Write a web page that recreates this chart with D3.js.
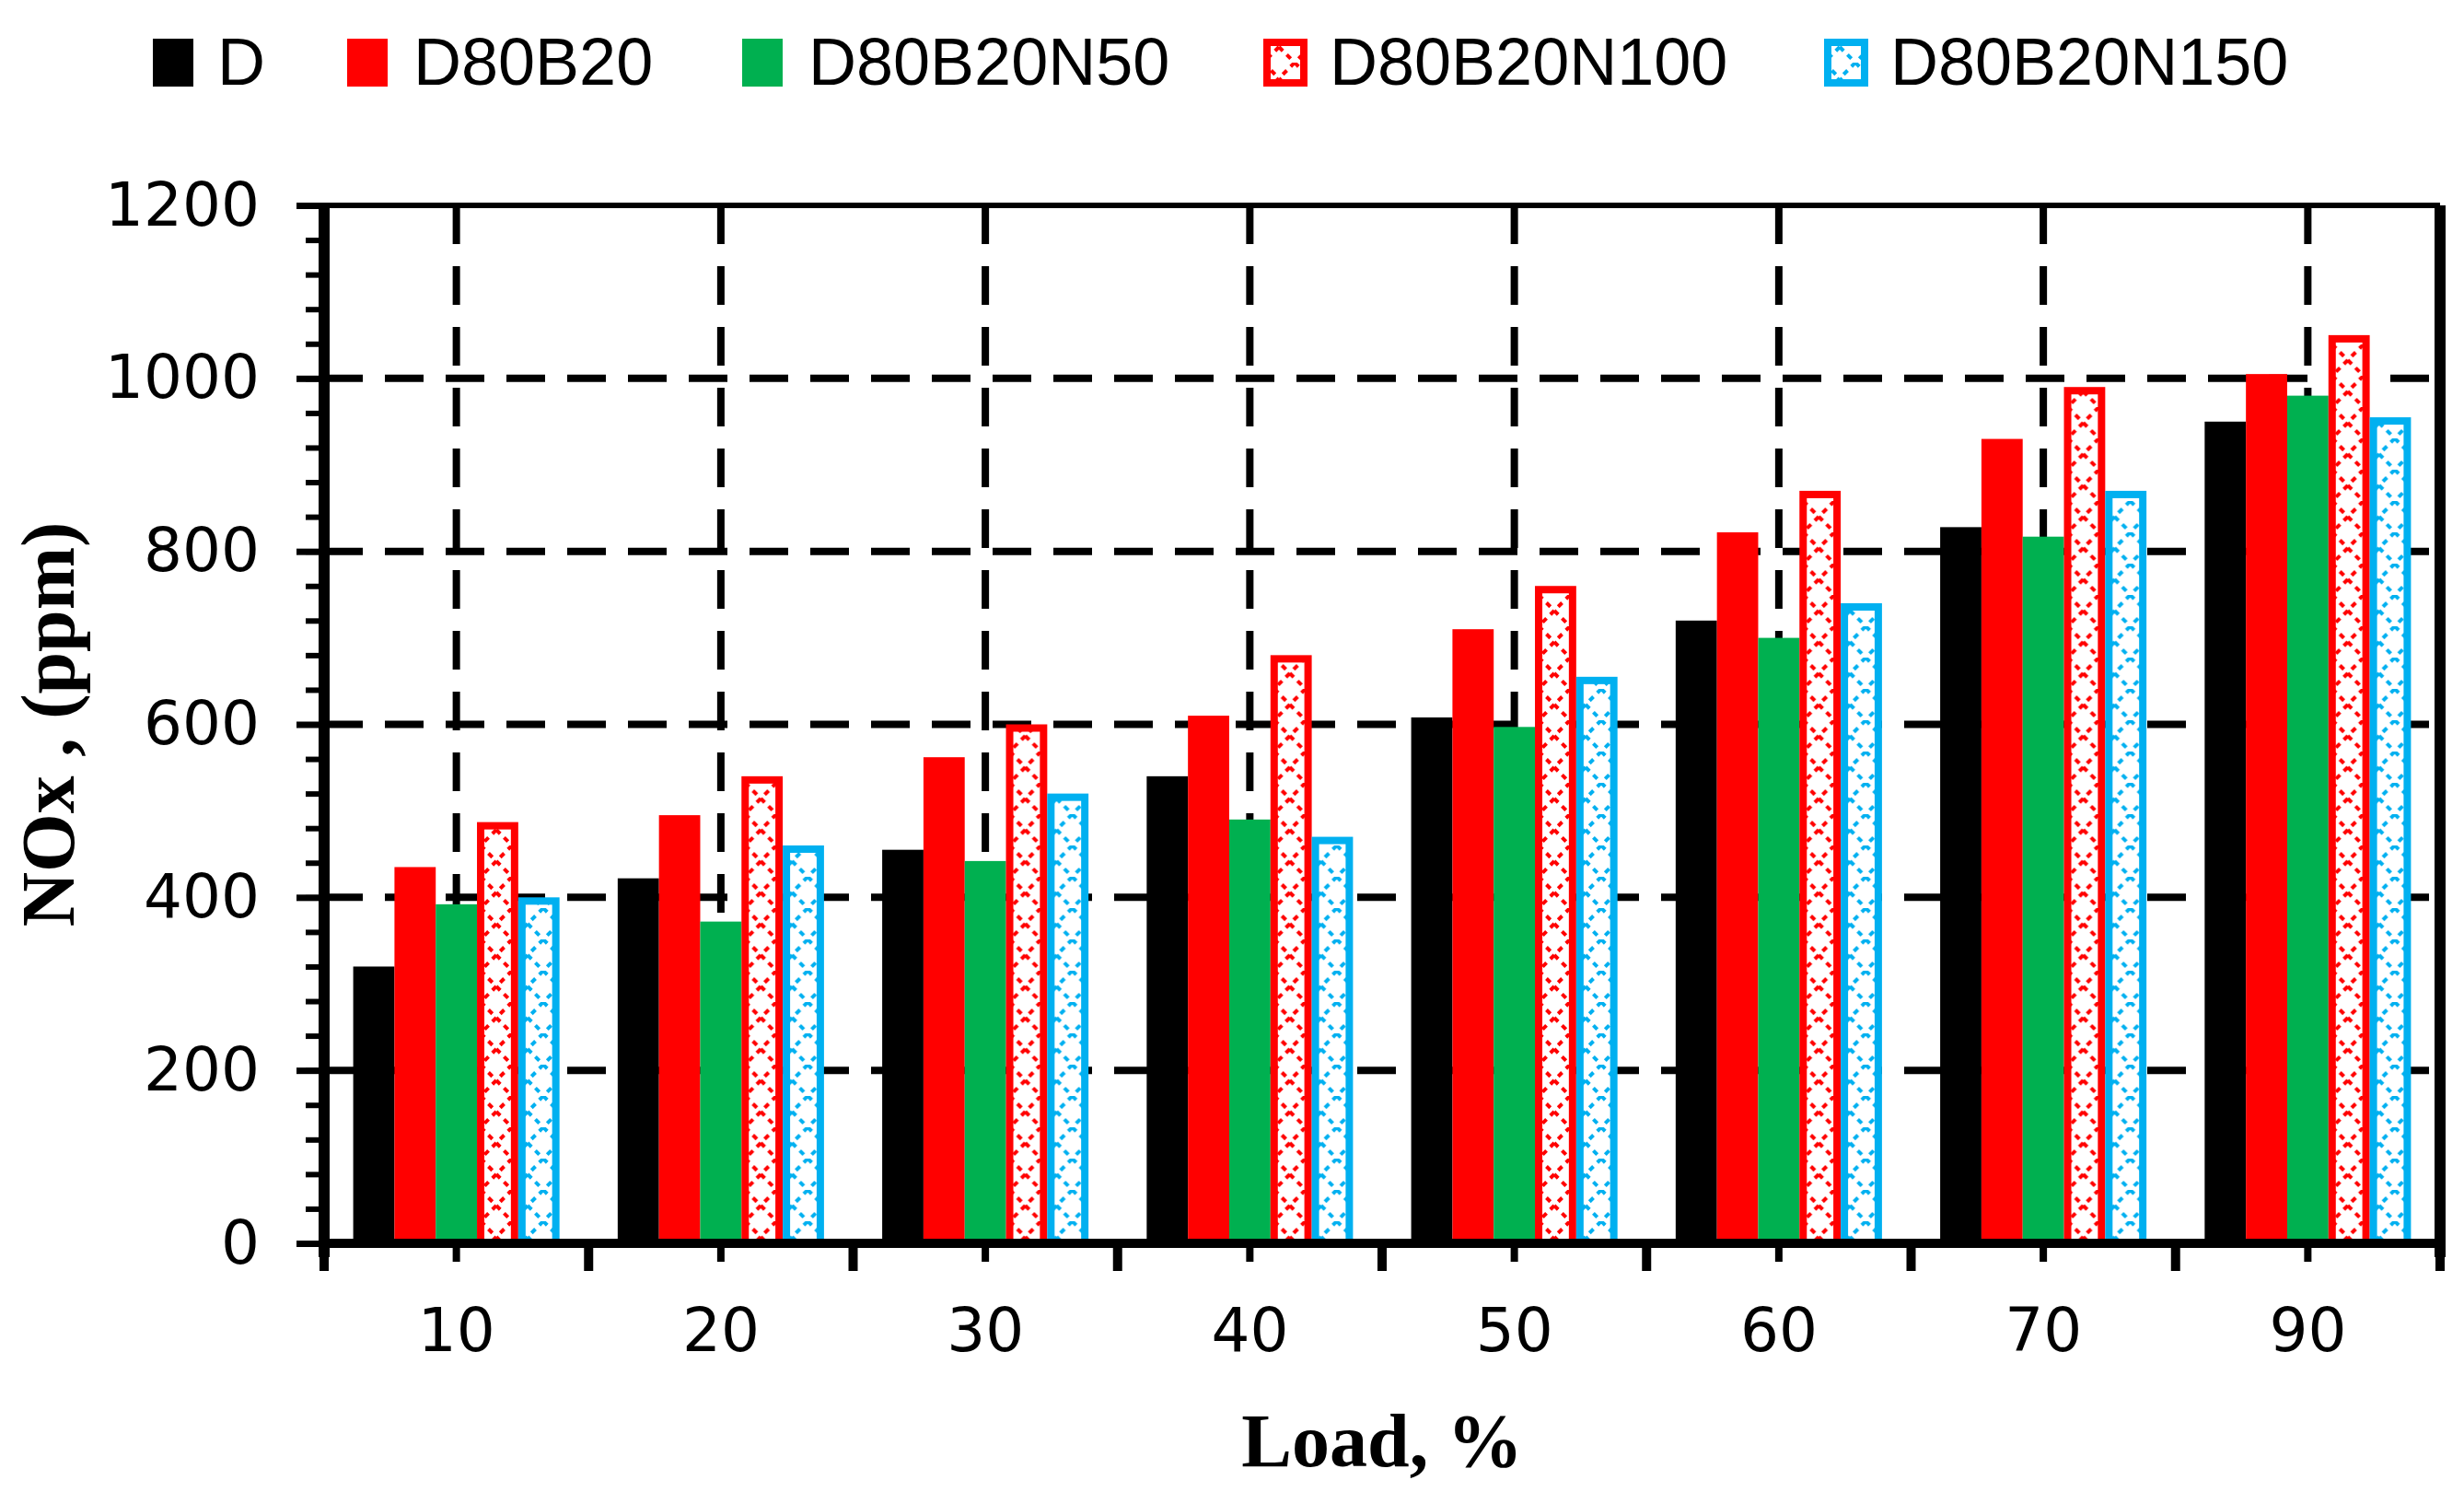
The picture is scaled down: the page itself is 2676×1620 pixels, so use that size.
<!DOCTYPE html>
<html>
<head>
<meta charset="utf-8">
<script src="https://cdn.jsdelivr.net/npm/d3@7"></script>
<style>
  body { margin: 0; background: #fff; }
</style>
</head>
<body>
<div class="container"></div>
<script>
const w = 2676;
const h = 1620;
const margin = { top: 223, left: 352, right: 26, bottom: 270 };

// data
const loads = ['10', '20', '30', '40', '50', '60', '70', '90'];
const seriesNames = ['D', 'D80B20', 'D80B20N50', 'D80B20N100', 'D80B20N150'];
const seriesColors = ['#000000', '#ff0000', '#00b050', '#ff0000', '#00b0f0'];
const seriesHatched = [false, false, false, true, true];
const valD = [320, 422, 455, 540, 608, 720, 828, 950];
const valB20 = [435, 495, 562, 610, 710, 822, 930, 1005];
const valN50 = [392, 372, 442, 490, 597, 700, 817, 980];
const valN100 = [487, 540, 600, 680, 760, 870, 990, 1050];
const valN150 = [400, 460, 520, 470, 655, 740, 870, 955];
const yTicks = [0, 200, 400, 600, 800, 1000, 1200];

const allValues = [valD, valB20, valN50, valN100, valN150];

const svg = d3.select('.container')
    .append('svg')
    .attr('width', w)
    .attr('height', h)
    .style('font-family', 'DejaVu Sans');

const defs = svg.append('defs');
seriesColors.forEach((c, i) => {
    if (!seriesHatched[i]) return;
    const p = defs.append('pattern')
        .attr('id', 'hatch' + i)
        .attr('patternUnits', 'userSpaceOnUse')
        .attr('width', 34)
        .attr('height', 34);
    p.append('rect').attr('width', 34).attr('height', 34).attr('fill', '#fff');
    p.append('path')
        .attr('d', 'M0,0 L34,34 M34,0 L0,34')
        .attr('stroke', c)
        .attr('stroke-width', 4)
        .attr('stroke-dasharray', '6,6');
});

const x0 = w - margin.right;
const y0 = h - margin.bottom;

const xScale = d3.scaleBand().domain(loads).range([margin.left, x0]);
const step = xScale.bandwidth();
const xInner = d3.scaleBand().domain(seriesNames).range([step * 0.11, step * 0.89]);
const yScale = d3.scaleLinear().domain([0, 1200]).range([y0, margin.top]);

// grid lines
const grid = svg.append('g').attr('stroke', '#000').attr('stroke-width', 8).attr('stroke-dasharray', '42,24');
yTicks.slice(1, -1).forEach(t => {
    grid.append('line').attr('x1', margin.left).attr('x2', x0)
        .attr('y1', yScale(t)).attr('y2', yScale(t));
});
loads.forEach(l => {
    const cx = xScale(l) + step / 2;
    grid.append('line').attr('x1', cx).attr('x2', cx)
        .attr('y1', margin.top).attr('y2', y0);
});

// bars
const groups = svg.append('g').selectAll('g').data(loads).join('g')
    .attr('transform', d => `translate(${xScale(d)},0)`);
seriesNames.forEach((s, i) => {
    const hb = seriesHatched[i];
    groups.append('rect')
        .attr('x', xInner(s) + (hb ? 4 : 0))
        .attr('width', xInner.bandwidth() - (hb ? 8 : 0))
        .attr('y', (d, k) => yScale(allValues[i][k]) + (hb ? 4 : 0))
        .attr('height', (d, k) => y0 - yScale(allValues[i][k]) - (hb ? 4 : 0))
        .attr('fill', hb ? `url(#hatch${i})` : seriesColors[i])
        .attr('stroke', hb ? seriesColors[i] : 'none')
        .attr('stroke-width', 8);
});

// axes
const yMinor = d3.range(0, 1201, 40);
const yAxis = svg.append('g').attr('transform', `translate(${margin.left},0)`);
yAxis.call(d3.axisLeft(yScale).tickValues(yMinor).tickSize(20).tickFormat(''));
yAxis.selectAll('line').attr('stroke-width', 6);
yAxis.select('.domain').remove();
const yMajor = svg.append('g').attr('transform', `translate(${margin.left},0)`)
    .call(d3.axisLeft(yScale).tickValues(yTicks).tickSize(30).tickPadding(40).tickFormat(d3.format('d')));
yMajor.selectAll('line').attr('stroke-width', 7);
yMajor.selectAll('text').attr('font-size', 66).attr('font-family', 'DejaVu Sans').attr('fill', '#000');
yMajor.select('.domain').remove();

const xAxis = svg.append('g').attr('transform', `translate(0,${y0})`)
    .call(d3.axisBottom(xScale).tickSize(20).tickPadding(50));
xAxis.select('.domain').remove();
xAxis.selectAll('line').attr('stroke-width', 8);
xAxis.selectAll('text').attr('font-size', 66).attr('font-family', 'DejaVu Sans').attr('fill', '#000');
// longer ticks on the band edges
svg.append('g').selectAll('line').data(loads.concat(['end'])).join('line')
    .attr('x1', d => d === 'end' ? x0 : xScale(d))
    .attr('x2', d => d === 'end' ? x0 : xScale(d))
    .attr('y1', y0).attr('y2', y0 + 30)
    .attr('stroke', '#000').attr('stroke-width', 10);

// frame
svg.append('line').attr('x1', margin.left).attr('x2', x0).attr('y1', margin.top).attr('y2', margin.top)
    .attr('stroke', '#000').attr('stroke-width', 6);
svg.append('line').attr('x1', margin.left - 4).attr('x2', x0 + 6).attr('y1', y0).attr('y2', y0)
    .attr('stroke', '#000').attr('stroke-width', 10);
svg.append('line').attr('x1', margin.left).attr('x2', margin.left).attr('y1', margin.top).attr('y2', y0 + 15)
    .attr('stroke', '#000').attr('stroke-width', 12);
svg.append('line').attr('x1', x0).attr('x2', x0).attr('y1', margin.top).attr('y2', y0 + 15)
    .attr('stroke', '#000').attr('stroke-width', 12);

// axis titles
svg.append('text')
    .text('Load, %')
    .attr('x', (margin.left + x0) / 2)
    .attr('y', 1592)
    .attr('text-anchor', 'middle')
    .style('font-family', 'Liberation Serif')
    .style('font-weight', 'bold')
    .style('font-size', 82);
svg.append('text')
    .text('NOx , (ppm)')
    .attr('transform', `translate(80,${(margin.top + y0) / 2}) rotate(-90)`)
    .attr('text-anchor', 'middle')
    .style('font-family', 'Liberation Serif')
    .style('font-weight', 'bold')
    .style('font-size', 82);

// legend
const legendX = [166, 377, 806, 1372, 1981];
const legend = svg.append('g').selectAll('g').data(seriesNames).join('g')
    .attr('transform', (d, i) => `translate(${legendX[i]},68)`);
legend.append('rect')
    .attr('x', (d, i) => seriesHatched[i] ? 4 : 0)
    .attr('y', (d, i) => seriesHatched[i] ? -22 : -26)
    .attr('width', (d, i) => seriesHatched[i] ? 40 : 44)
    .attr('height', (d, i) => seriesHatched[i] ? 44 : 52)
    .attr('fill', (d, i) => seriesHatched[i] ? `url(#hatch${i})` : seriesColors[i])
    .attr('stroke', (d, i) => seriesHatched[i] ? seriesColors[i] : 'none')
    .attr('stroke-width', 8);
legend.append('text')
    .text(d => d)
    .attr('x', (d, i) => i === 0 ? 70 : 72)
    .attr('y', 24)
    .style('font-family', 'Liberation Sans')
    .style('font-size', 72);
</script>
</body>
</html>
